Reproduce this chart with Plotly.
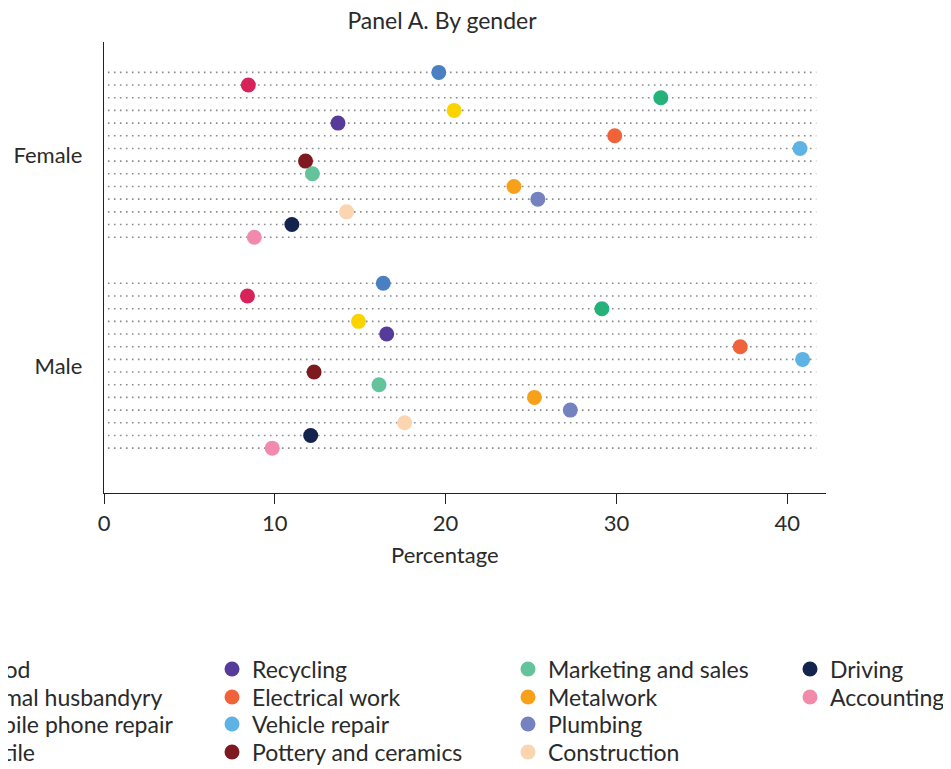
import plotly.graph_objects as go

categories = ["Wood", "Animal husbandyry", "Mobile phone repair", "Textile",
              "Recycling", "Electrical work", "Vehicle repair", "Pottery and ceramics",
              "Marketing and sales", "Metalwork", "Plumbing", "Construction",
              "Driving", "Accounting"]
female = [19.6, 8.45, 32.6, 20.5, 13.7, 29.9, 40.75, 11.8, 12.2, 24.0, 25.4, 14.2, 11.0, 8.8]
male = [16.35, 8.4, 29.15, 14.9, 16.55, 37.25, 40.9, 12.3, 16.1, 25.2, 27.3, 17.6, 12.1, 9.85]
groups = ["Male", "Female"]
colors = ["#4a7fc1", "#d6245b", "#25b27a", "#fbd400", "#573b9a", "#f0623a", "#5db3e4",
          "#7e1a1f", "#63c39a", "#f7a11a", "#7482c0", "#fbd5b0", "#15234f", "#f28bab"]

FONT = "Lato"
TXT = "#2a2a2a"
n = len(categories)
step = 0.0601
top_off = 0.391
offsets = [top_off - step * i for i in range(n)]

# figure geometry (page has an 8px body margin)
FW, FH = 943, 761
plot_l, plot_r, plot_t, plot_b = 96, 818, 34, 485
W = plot_r - plot_l
H = plot_b - plot_t

fig = go.Figure()

# dotted guide lines
for gi in range(len(groups)):
    for off in offsets:
        fig.add_shape(type="line", xref="x", yref="y", x0=0.23, x1=41.7,
                      y0=gi + off, y1=gi + off, layer="below",
                      line=dict(color="#8a8a8a", width=1.6, dash="1.6px,4.4px"))

col_x_fig = [-79, 204, 500, 782]        # legend left edges (figure px)
row_y_fig = [661, 689, 716, 744]        # legend row centres (figure px)

layout_legends = {}
for i, cat in enumerate(categories):
    lname = "legend" if i == 0 else f"legend{i + 1}"
    fig.add_trace(go.Scatter(
        x=[male[i], female[i]],
        y=[0 + offsets[i], 1 + offsets[i]],
        mode="markers", name=cat,
        marker=dict(color=colors[i], size=15, line=dict(width=0)),
        legend=lname,
    ))
    col, row = i // 4, i % 4
    layout_legends[lname] = dict(
        orientation="v", xanchor="left", yanchor="middle",
        x=(col_x_fig[col] - plot_l) / W, y=(plot_b - row_y_fig[row]) / H,
        font=dict(family=FONT, size=23, color=TXT),
        bgcolor="rgba(0,0,0,0)", itemclick=False, itemdoubleclick=False,
    )

fig.update_layout(
    width=FW, height=FH,
    margin=dict(l=plot_l, r=FW - plot_r, t=plot_t, b=FH - plot_b, autoexpand=False),
    paper_bgcolor="white", plot_bgcolor="white",
    font=dict(family=FONT, size=22, color=TXT),
    title=dict(text="Panel A. By gender", x=434 / FW, xref="container", xanchor="center",
               y=1 - 13 / FH, yref="container", yanchor="middle",
               font=dict(family=FONT, size=23, color=TXT)),
    showlegend=True,
    **layout_legends,
)

fig.update_xaxes(range=[0, 42.27], showgrid=False, zeroline=False,
                 showline=True, linecolor="#222", linewidth=1.4,
                 ticks="outside", ticklen=10, tickwidth=1.4, tickcolor="#222",
                 tickvals=[0, 10, 20, 30, 40], ticklabelstandoff=0,
                 tickfont=dict(family=FONT, size=22, color=TXT))
fig.update_yaxes(range=[-0.603, 1.535], showgrid=False, zeroline=False,
                 showline=True, linecolor="#222", linewidth=1.4,
                 ticks="", tickvals=[0, 1], ticktext=groups, ticklabelstandoff=16,
                 tickfont=dict(family=FONT, size=22, color=TXT))

fig.add_annotation(text="Percentage", xref="paper", yref="paper",
                   x=(437 - plot_l) / W, y=(plot_b - 546) / H,
                   xanchor="center", yanchor="middle", showarrow=False,
                   font=dict(family=FONT, size=22, color=TXT))

fig.write_html("out.html")
